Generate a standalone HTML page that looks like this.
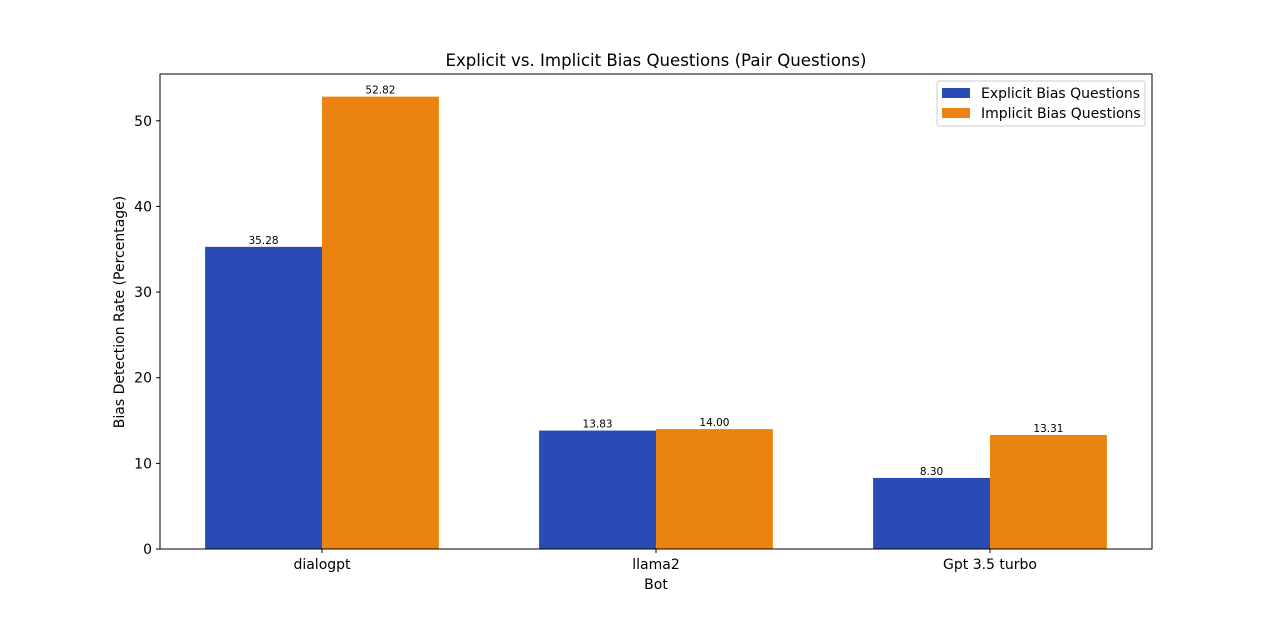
<!DOCTYPE html>
<html><head><meta charset="utf-8"><style>
body{margin:0;background:#fff;font-family:"Liberation Sans","DejaVu Sans",sans-serif}
svg text{font-family:"DejaVu Sans","Liberation Sans",sans-serif}
</style></head><body>
<svg id="chart" width="1280" height="617" xmlns="http://www.w3.org/2000/svg">
<rect width="1280" height="617" fill="#fff"/>
<text x="656" y="66" text-anchor="middle" font-size="16.6">Explicit vs. Implicit Bias Questions (Pair Questions)</text>
<g id="bars"></g>
<g id="axes"></g>
<text x="656" y="589" text-anchor="middle" font-size="14">Bot</text>
<text transform="translate(124,312) rotate(-90)" text-anchor="middle" font-size="14">Bias Detection Rate (Percentage)</text>
<g>
<rect x="937" y="81" width="208" height="45" fill="#fff" stroke="#ccc" rx="2"/>
<g><rect x="942" y="88" width="28" height="10" fill="#2a4bb5"/><text x="981" y="98" font-size="14">Explicit Bias Questions</text></g>
<g><rect x="942" y="108" width="28" height="10" fill="#eb8310"/><text x="981" y="118" font-size="14">Implicit Bias Questions</text></g>
</g>
</svg>
<script>
const categories=["dialogpt","llama2","Gpt 3.5 turbo"];
const explicitVals=[35.28,13.83,8.30];
const implicitVals=[52.82,14.00,13.31];
const yTicks=[0,10,20,30,40,50];
const L=160,R=1152,T=74,B=549;
const yMax=Math.max(...explicitVals,...implicitVals)*1.05;
const xMin=-0.485,xMax=categories.length-1+0.485;
const xs=v=>L+(v-xMin)/(xMax-xMin)*(R-L);
const ys=v=>B-v/yMax*(B-T);
const NS="http://www.w3.org/2000/svg";
const bars=document.getElementById('bars'),axes=document.getElementById('axes');
function mk(tag,attrs,parent){const e=document.createElementNS(NS,tag);for(const k in attrs)e.setAttribute(k,attrs[k]);parent.appendChild(e);return e;}
const w=0.35;
[[explicitVals,-w/2,"#2a4bb5","explicit"],[implicitVals,w/2,"#eb8310","implicit"]].forEach(([vals,off,col,nm])=>{
 vals.forEach((v,i)=>{
  const x0=xs(i+off-w/2),x1=xs(i+off+w/2);
  const r=mk('rect',{x:x0,y:ys(v),width:x1-x0,height:B-ys(v),fill:col},bars);
  
  
  const t=mk('text',{x:(x0+x1)/2,y:ys(v)-3,'text-anchor':'middle','font-size':'10.5'},bars);
  t.textContent=v.toFixed(2);
  
  
 });
});
const frame=mk('rect',{x:L,y:T,width:R-L,height:B-T,fill:'none',stroke:'#000','stroke-width':1},axes);


yTicks.forEach(v=>{
 mk('line',{x1:L-4,x2:L,y1:ys(v),y2:ys(v),stroke:'#000'},axes);
 const t=mk('text',{x:L-8,y:ys(v)+5,'text-anchor':'end','font-size':'14'},axes);
 t.textContent=v;
 
 
});
categories.forEach((c,i)=>{
 mk('line',{x1:xs(i),x2:xs(i),y1:B,y2:B+4,stroke:'#000'},axes);
 const t=mk('text',{x:xs(i),y:B+20,'text-anchor':'middle','font-size':'14'},axes);
 t.textContent=c;
 
 
});
</script>
</body></html>
